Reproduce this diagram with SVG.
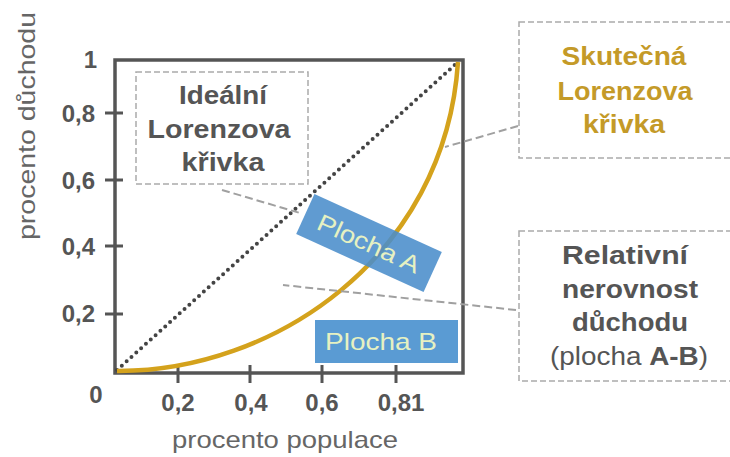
<svg xmlns="http://www.w3.org/2000/svg" width="730" height="457" viewBox="0 0 730 457">
<style>
.ax{fill:none;stroke:#555;stroke-width:3.5}
.tk{stroke:#555;stroke-width:3}
.lbl{font-family:"Liberation Sans",Arial,sans-serif;font-weight:bold;font-size:24px;fill:#555}
.ttl{font-family:"Liberation Sans",Arial,sans-serif;font-size:24px;fill:#666}
.box{fill:none;stroke:#aaa;stroke-width:1.5;stroke-dasharray:6 3}
.bt{font-family:"Liberation Sans",Arial,sans-serif;font-weight:bold;font-size:26px;fill:#555;text-anchor:middle}
.gold{fill:#C49A28}
.con{fill:none;stroke:#a0a0a0;stroke-width:2;stroke-dasharray:8 4}
.pl{font-family:"Liberation Sans",Arial,sans-serif;font-size:24px;fill:#E6F1C2;text-anchor:middle}
</style>
<rect width="730" height="457" fill="#fff"/>
<g id="axes">
<rect class="ax" x="115" y="60" width="348" height="313"/>
<line class="tk" x1="105" y1="113" x2="123" y2="113"/>
<line class="tk" x1="105" y1="180" x2="123" y2="180"/>
<line class="tk" x1="105" y1="246" x2="123" y2="246"/>
<line class="tk" x1="105" y1="314" x2="123" y2="314"/>
<line class="tk" x1="178" y1="365" x2="178" y2="383"/>
<line class="tk" x1="250" y1="365" x2="250" y2="383"/>
<line class="tk" x1="322" y1="365" x2="322" y2="383"/>
<line class="tk" x1="396" y1="365" x2="396" y2="383"/>
<g class="lbl" text-anchor="end">
<text x="97" y="68">1</text>
<text x="95" y="122">0,8</text>
<text x="95" y="189">0,6</text>
<text x="95" y="255">0,4</text>
<text x="95" y="322">0,2</text>
</g>
<g class="lbl" text-anchor="middle">
<text x="96" y="403">0</text>
<text x="178" y="411">0,2</text>
<text x="251" y="411">0,4</text>
<text x="322" y="411">0,6</text>
<text x="401" y="411">0,81</text>
</g>
<text class="ttl" x="172" y="448" textLength="226" lengthAdjust="spacingAndGlyphs">procento populace</text>
<text class="ttl" transform="translate(35,126) rotate(-90)" x="-114" y="0" textLength="228" lengthAdjust="spacingAndGlyphs">procento důchodu</text>
</g>
<g id="equality-line">
<line x1="117" y1="370" x2="458" y2="62" stroke="#444" stroke-width="4" stroke-linecap="round" stroke-dasharray="0 6.5"/>
</g>
<g id="lorenz-curve">
<path d="M117,371 C272,372 445,258 458,62" fill="none" stroke="#D4A21C" stroke-width="4.5"/>
</g>
<g id="connectors">
<line class="con" x1="222" y1="190" x2="300" y2="213"/>
<line class="con" x1="518" y1="126" x2="445" y2="147"/>
<line class="con" x1="516" y1="310" x2="283" y2="285"/>
</g>
<g id="plocha-a" transform="translate(369,243) rotate(24.5)">
<rect x="-70" y="-22" width="140" height="44" fill="#4A8DCB" fill-opacity="0.88"/>
<text class="pl" x="0" y="9" textLength="110" lengthAdjust="spacingAndGlyphs">Plocha A</text>
</g>
<g id="plocha-b">
<rect x="315" y="320" width="143" height="43" fill="#5A9BD3"/>
<text class="pl" x="381" y="350" textLength="112" lengthAdjust="spacingAndGlyphs">Plocha B</text>
</g>
<g id="idealni">
<rect class="box" x="136" y="72" width="172" height="112"/>
<text class="bt" x="223" y="104" textLength="88" lengthAdjust="spacingAndGlyphs">Ideální</text>
<text class="bt" x="219" y="138" textLength="143" lengthAdjust="spacingAndGlyphs">Lorenzova</text>
<text class="bt" x="223" y="171" textLength="83" lengthAdjust="spacingAndGlyphs">křivka</text>
</g>
<g id="skutecna">
<rect class="box" x="519" y="22" width="240" height="136"/>
<text class="bt gold" x="624" y="65" textLength="125" lengthAdjust="spacingAndGlyphs">Skutečná</text>
<text class="bt gold" x="625" y="100" textLength="135" lengthAdjust="spacingAndGlyphs">Lorenzova</text>
<text class="bt gold" x="624" y="133" textLength="82" lengthAdjust="spacingAndGlyphs">křivka</text>
</g>
<g id="relativni">
<rect class="box" x="519" y="231" width="240" height="150"/>
<text class="bt" x="625" y="264" textLength="126" lengthAdjust="spacingAndGlyphs">Relativní</text>
<text class="bt" x="630" y="298" textLength="136" lengthAdjust="spacingAndGlyphs">nerovnost</text>
<text class="bt" x="630" y="331" textLength="116" lengthAdjust="spacingAndGlyphs">důchodu</text>
<text class="bt" x="629" y="365" textLength="158" lengthAdjust="spacingAndGlyphs"><tspan font-weight="normal">(plocha </tspan>A-B<tspan font-weight="normal">)</tspan></text>
</g>
</svg>
